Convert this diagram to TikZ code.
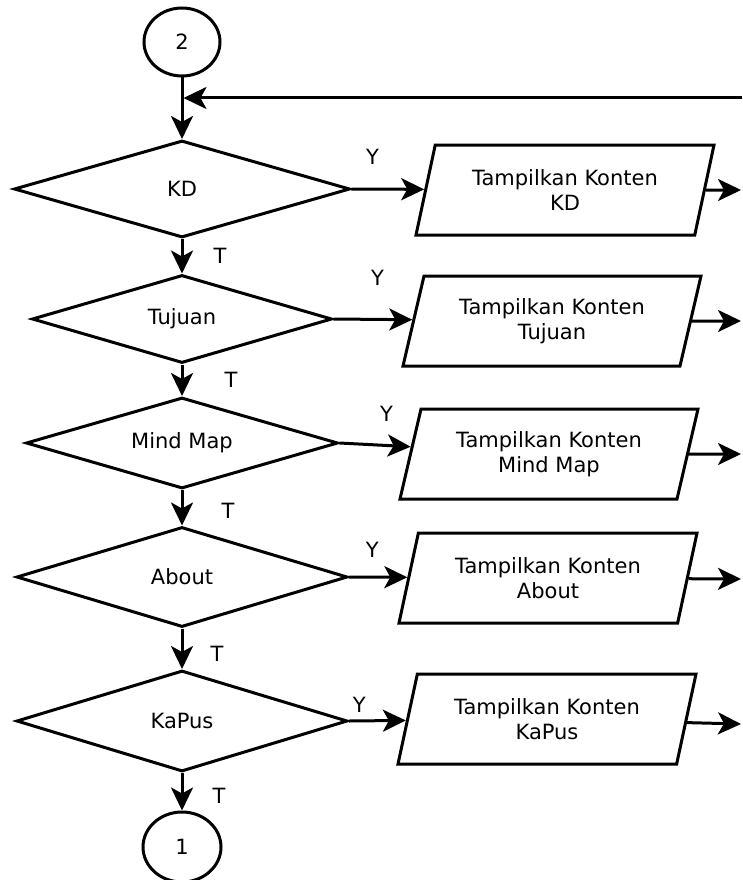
\documentclass[tikz,border=0pt]{standalone}
\usepackage{fontspec}
\setmainfont{DejaVu Sans}
\usepackage{tikz}
\usetikzlibrary{
arrows.meta,
positioning,
shapes.geometric
}

\begin{document}
\begin{tikzpicture}[
  x=1pt, y=1pt,
  >={Stealth[length=23pt, width=22pt, inset=6pt]},
  line width=3pt,
  font=\fontsize{21}{25}\selectfont,
  connector/.style={draw, ellipse, inner sep=0pt, minimum width=76pt, minimum height=68pt},
  decision/.style={draw, diamond, aspect=3.4, inner sep=0pt},
  output/.style={draw, trapezium, trapezium left angle=68, trapezium right angle=112, trapezium stretches body, minimum width=298pt, minimum height=90pt, align=center},
  answer/.style={inner sep=0pt}
]

% Frame
\useasboundingbox (0,0) rectangle (742,-880);

% Nodes
\node[connector] (c2) at (182,-42) {2};
\node[decision, minimum width=336pt, minimum height=97pt] (kd) at (182,-189) {KD};
\node[decision, minimum width=300pt, minimum height=88pt] (tujuan) at (182,-319) {Tujuan};
\node[decision, minimum width=312pt, minimum height=91pt] (mindmap) at (182,-443) {Mind Map};
\node[decision, minimum width=331pt, minimum height=100pt] (about) at (182,-577) {About};
\node[decision, minimum width=331pt, minimum height=101pt] (kapus) at (182,-721) {KaPus};
\node[connector, minimum width=78pt, minimum height=70pt] (c1) at (182,-847) {1};

\node[output] (kdshow) at (565,-190) {Tampilkan Konten\\KD};
\node[output] (tujuanshow) at (552,-321) {Tampilkan Konten\\Tujuan};
\node[output] (mindmapshow) at (549,-454) {Tampilkan Konten\\Mind Map};
\node[output] (aboutshow) at (548,-578) {Tampilkan Konten\\About};
\node[output] (kapusshow) at (547,-719) {Tampilkan Konten\\KaPus};

% Free ends at the right margin
\coordinate (back) at (742,-98);
\coordinate (kdend) at (741,-190);
\coordinate (tujuanend) at (741,-321);
\coordinate (mindmapend) at (741,-454);
\coordinate (aboutend) at (741,-579);
\coordinate (kapusend) at (741,-724);

% Edges
\draw[->] (c2) -- (kd);
\draw[->] (kd) -- node[answer, right=30pt]{T} (tujuan);
\draw[->] (tujuan) -- node[answer, right=41pt]{T} (mindmap);
\draw[->] (mindmap) -- node[answer, pos=0.6, right=38pt]{T} (about);
\draw[->] (about) -- node[answer, pos=0.62, right=27pt]{T} (kapus);
\draw[->] (kapus) -- node[answer, pos=0.6, right=29pt]{T} (c1);

\draw[->] (kd.east) -- node[answer, pos=0.29, above=23pt]{Y} (kdshow);
\draw[->] (tujuan.east) -- node[answer, pos=0.56, above=32pt]{Y} (tujuanshow);
\draw[->] (mindmap.east) -- node[answer, pos=0.66, above=22pt]{Y} (mindmapshow);
\draw[->] (about.east) -- node[answer, pos=0.4, above=18pt]{Y} (aboutshow);
\draw[->] (kapus.east) -- node[answer, pos=0.18, above=7pt]{Y} (kapusshow);

\draw[->] (kdshow) -- (kdend);
\draw[->] (tujuanshow) -- (tujuanend);
\draw[->] (mindmapshow) -- (mindmapend);
\draw[->] (aboutshow) -- (aboutend);
\draw[->] (kapusshow) -- (kapusend);

% Return line
\draw[->, shorten >=1.5pt] (back) -- (back -| c2);

\end{tikzpicture}
\end{document}
